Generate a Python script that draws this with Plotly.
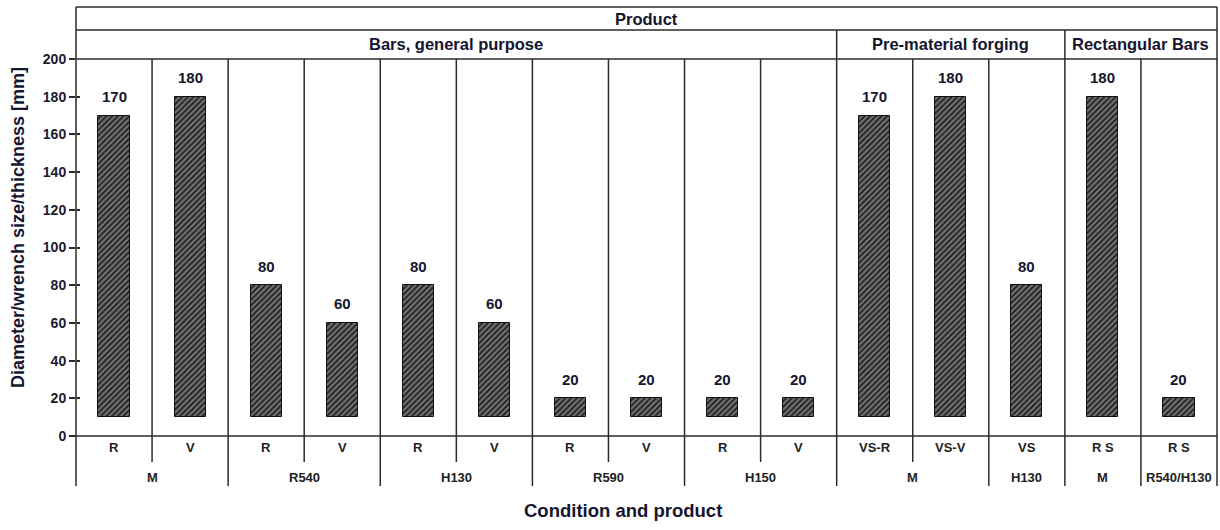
import plotly.graph_objects as go

# ---- data ----
sub_labels = ["R", "V", "R", "V", "R", "V", "R", "V", "R", "V", "VS-R", "VS-V", "VS", "R S", "R S"]
values = [170, 180, 80, 60, 80, 60, 20, 20, 20, 20, 170, 180, 80, 180, 20]
bar_base = 10
cond_names = ["M", "R540", "H130", "R590", "H150", "M", "H130", "M", "R540/H130"]
cond_spans = [2, 2, 2, 2, 2, 2, 1, 1, 1]
prod_names = ["Bars, general purpose", "Pre-material forging", "Rectangular Bars"]
prod_spans = [10, 3, 2]
top_header = "Product"
y_ticks = list(range(0, 201, 20))
y_title = "Diameter/wrench size/thickness [mm]"
x_title = "Condition and product"

n = len(values)
W, H = 1220, 530
L, R, T, B = 76, 3, 59, 94
plot_h = H - T - B
plot_w = W - L - R

def yp(px):
    return (H - B - px) / plot_h

def xp_px(px):
    return (px - L) / plot_w

FONT = "Liberation Sans"
LINE = "#2b2b2b"
TXT = "#151530"
LW = 1.5

fig = go.Figure()
fig.add_trace(go.Bar(
    x=[i + 0.5 for i in range(n)],
    y=[v - bar_base for v in values],
    base=bar_base,
    width=0.41,
    marker=dict(
        color="#1a1a1a",
        line=dict(color="#111111", width=1),
        pattern=dict(shape="/", bgcolor="#1a1a1a", fgcolor="#c8c8c8", size=4, solidity=0.6),
    ),
    hoverinfo="skip",
    showlegend=False,
))
# invisible trace for inner ticks axis
fig.add_trace(go.Scatter(x=[0], y=[0], yaxis="y2", mode="markers",
                         marker=dict(opacity=0), showlegend=False, hoverinfo="skip"))

shapes = []
def vline(xpaper, y0, y1):
    shapes.append(dict(type="line", xref="paper", yref="paper", x0=xpaper, x1=xpaper,
                       y0=y0, y1=y1, line=dict(color=LINE, width=LW)))
def hline(y, x0=0, x1=1):
    shapes.append(dict(type="line", xref="paper", yref="paper", x0=x0, x1=x1,
                       y0=y, y1=y, line=dict(color=LINE, width=LW)))

hline(yp(7))
hline(yp(30))
hline(1)
hline(0, xp_px(70), 1)

cond_bounds = set()
acc = 0
for s in cond_spans:
    acc += s
    cond_bounds.add(acc)
prod_bounds = set()
acc = 0
for s in prod_spans:
    acc += s
    prod_bounds.add(acc)

for k in range(0, n + 1):
    xk = k / n
    if k == 0 or k == n:
        vline(xk, yp(486), yp(7))
        continue
    top = yp(30) if k in prod_bounds else 1
    bottom = yp(486) if k in cond_bounds else yp(462)
    vline(xk, bottom, top)

annotations = []
# value labels
for i, v in enumerate(values):
    annotations.append(dict(x=i + 0.5, y=v, xref="x", yref="y", text=str(v),
                            showarrow=False, xanchor="center", yanchor="middle", yshift=19,
                            font=dict(family=FONT, size=15, color=TXT, weight="bold")))
# sub labels
for i, lab in enumerate(sub_labels):
    annotations.append(dict(x=(i + 0.5) / n, y=yp(448), xref="paper", yref="paper",
                            text=lab, showarrow=False, xanchor="center", yanchor="middle",
                            font=dict(family=FONT, size=13, color="#222", weight="bold")))
# condition labels
acc = 0
for name, s in zip(cond_names, cond_spans):
    annotations.append(dict(x=(acc + s / 2) / n, y=yp(477), xref="paper", yref="paper",
                            text=name, showarrow=False, xanchor="center", yanchor="middle",
                            font=dict(family=FONT, size=13, color="#222", weight="bold")))
    acc += s
# product labels
acc = 0
for name, s in zip(prod_names, prod_spans):
    annotations.append(dict(x=(acc + s / 2) / n, y=yp(44), xref="paper", yref="paper",
                            text=name, showarrow=False, xanchor="center", yanchor="middle",
                            font=dict(family=FONT, size=16.5, color=TXT, weight="bold")))
    acc += s
annotations.append(dict(x=0.5, y=yp(18.5), xref="paper", yref="paper", text=top_header,
                        showarrow=False, xanchor="center", yanchor="middle",
                        font=dict(family=FONT, size=16.5, color=TXT, weight="bold")))
annotations.append(dict(x=xp_px(623), y=yp(510), xref="paper", yref="paper", text=x_title,
                        showarrow=False, xanchor="center", yanchor="middle",
                        font=dict(family=FONT, size=18.5, color=TXT, weight="bold")))
annotations.append(dict(x=xp_px(18), y=yp(228), xref="paper", yref="paper", text=y_title,
                        textangle=-90, showarrow=False, xanchor="center", yanchor="middle",
                        font=dict(family=FONT, size=18, color=TXT, weight="bold")))

fig.update_layout(
    width=W, height=H,
    margin=dict(l=L, r=R, t=T, b=B, pad=0, autoexpand=False),
    paper_bgcolor="white", plot_bgcolor="white",
    bargap=0,
    shapes=shapes,
    annotations=annotations,
    xaxis=dict(range=[0, n], showticklabels=False, ticks="", showgrid=False,
               zeroline=False, showline=False, fixedrange=True, automargin=False),
    yaxis=dict(range=[0, 200], tickvals=y_ticks, ticks="outside", ticklen=6,
               tickwidth=LW, tickcolor=LINE, showgrid=False, zeroline=False,
               showline=False, automargin=False,
               tickfont=dict(family=FONT, size=14, color="#1a1a2a", weight="bold")),
    yaxis2=dict(range=[0, 200], overlaying="y", side="left", tickvals=y_ticks,
                ticks="inside", ticklen=4, tickwidth=LW, tickcolor=LINE, automargin=False,
                showticklabels=False, showgrid=False, zeroline=False, showline=False),
)

fig.write_html("out.html", config={"displayModeBar": False},
               post_script="document.body.style.margin='0';document.body.style.padding='0';")
